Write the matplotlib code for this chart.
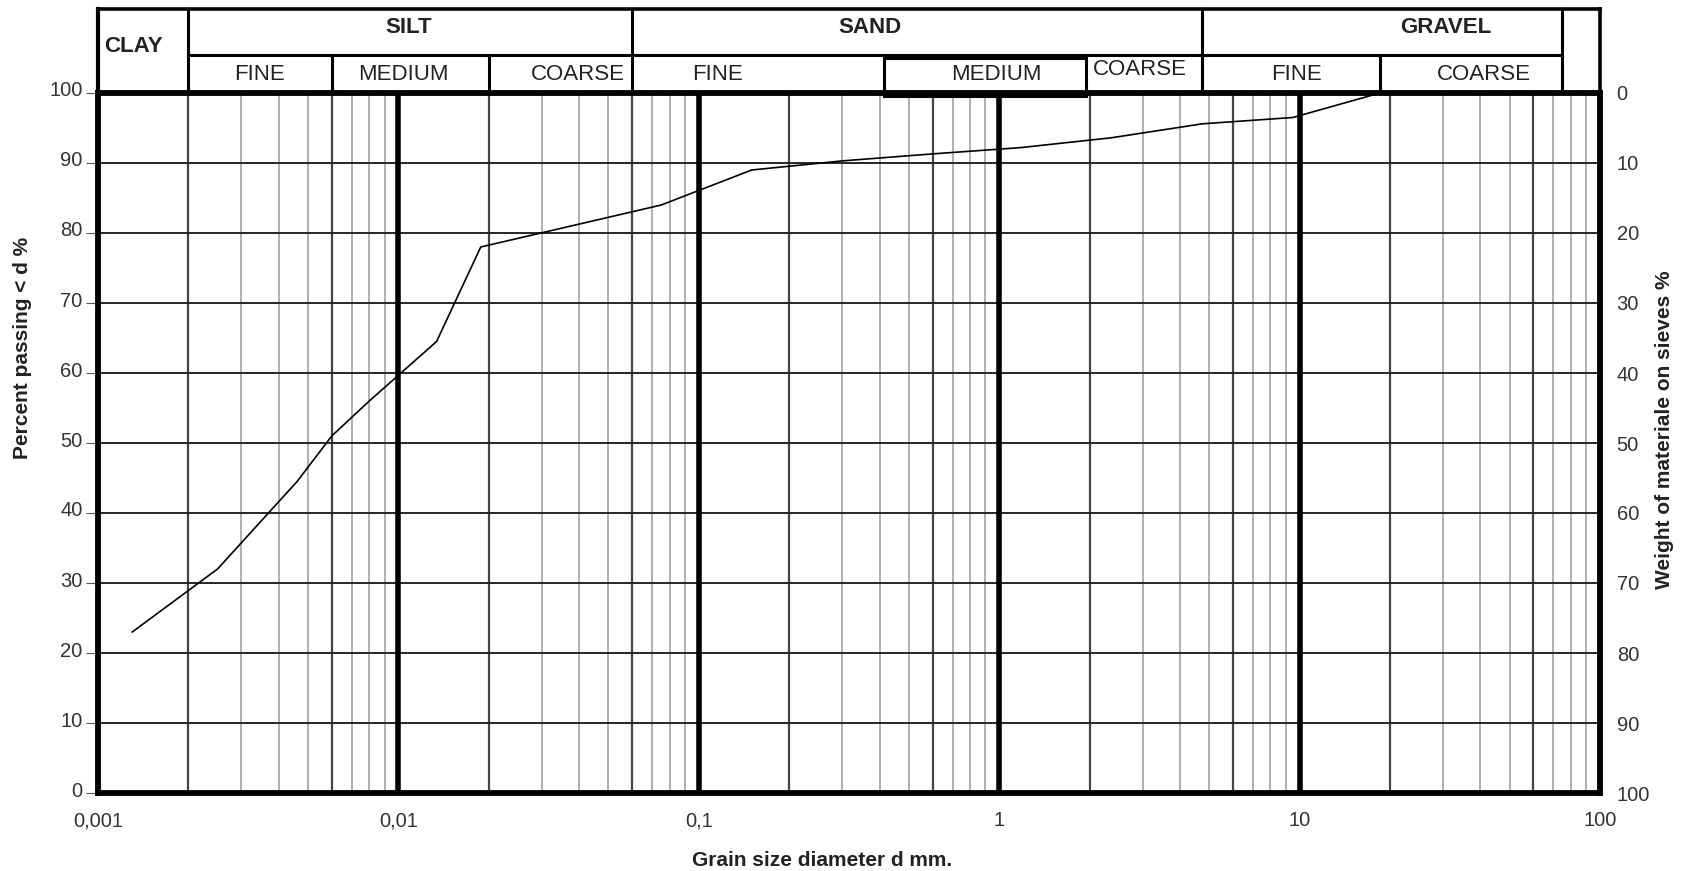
import matplotlib
matplotlib.use("Agg")
import matplotlib.pyplot as plt
from matplotlib.patches import Rectangle
from matplotlib.ticker import NullLocator
from matplotlib.transforms import blended_transform_factory, ScaledTranslation

plt.rcParams['font.family'] = ['Liberation Sans', 'DejaVu Sans']

# grain size distribution (hydrometer + sieve readings)
diam = [0.0013, 0.0025, 0.0046, 0.006, 0.008, 0.0134, 0.0188, 0.075,
        0.15, 0.3, 0.6, 1.18, 2.36, 4.75, 9.5, 18.5]
passing = [23, 32, 44.5, 51, 56, 64.5, 78, 84,
           89, 90.3, 91.3, 92.2, 93.6, 95.6, 96.5, 100]

xticks = [0.001, 0.01, 0.1, 1, 10, 100]
xticklabels = ['0,001', '0,01', '0,1', '1', '10', '100']
yticks = list(range(0, 101, 10))

# soil classes: (name, from mm, to mm)
main_classes = [('CLAY', 0.001, 0.002), ('SILT', 0.002, 0.06),
                ('SAND', 0.06, 4.75), ('GRAVEL', 4.75, 75), ('', 75, 100)]
sub_classes = [('FINE', 0.002, 0.006), ('MEDIUM', 0.006, 0.02), ('COARSE', 0.02, 0.06),
               ('FINE', 0.06, 0.415), ('MEDIUM', 0.415, 1.95), ('COARSE', 1.95, 4.75),
               ('FINE', 4.75, 18.5), ('COARSE', 18.5, 75)]

# where the header words sit (x in mm)
main_text_x = [0.00131, 0.0108, 0.37, 30.7, None]
sub_text_x = [0.00344, 0.01035, 0.0396, 0.115, 0.975, 2.94, 9.73, 41.1]

fig = plt.figure(figsize=(16.86, 8.71), dpi=100)
ax = fig.add_axes([98 / 1686, 78 / 871, 1502 / 1686, 700 / 871])
ax.set_xscale('log')
ax.set_xlim(0.001, 100)
ax.set_ylim(0, 100)

# vertical grid: decades bold, 2/6 boundaries darker, the rest light
for e in range(-3, 2):
    for k in range(1, 10):
        v = k * 10.0 ** e
        if v <= 0.001 or v >= 100:
            continue
        if k == 1:
            ax.axvline(v, color='black', lw=4.0, zorder=3)
        elif k in (2, 6):
            ax.axvline(v, color='#444444', lw=1.6, zorder=1)
        else:
            ax.axvline(v, color='#9a9a9a', lw=1.1, zorder=1)
for v in yticks[1:-1]:
    ax.axhline(v, color='#262626', lw=1.4, zorder=2)

ax.plot(diam, passing, color='black', lw=1.2, zorder=4)

for s in ax.spines.values():
    s.set_linewidth(4.2)
    s.set_color('black')
    s.set_zorder(5)

ax.set_xticks(xticks, labels=xticklabels)
ax.xaxis.set_minor_locator(NullLocator())
ax.tick_params(axis='x', length=0, pad=13, labelsize=14.5, labelcolor='#333333')
ax.set_yticks(yticks)
ax.tick_params(axis='y', length=8.5, width=0.8, color='#555555', pad=2.5,
               labelsize=14.5, labelcolor='#333333')
shift = ScaledTranslation(0, 0.04, fig.dpi_scale_trans)
for lbl in ax.get_yticklabels():
    lbl.set_transform(lbl.get_transform() + shift)

ax2 = ax.twinx()
ax2.set_ylim(100, 0)
ax2.set_yticks(yticks)
ax2.tick_params(axis='y', length=0, pad=12, labelsize=14.5, labelcolor='#333333')
for s in ax2.spines.values():
    s.set_visible(False)

# classification header above the plot
hdr = blended_transform_factory(ax.transData, ax.transAxes)
y_top, y_mid, y_bot = 1.1206, 1.0543, 1.0
hlw = 2.2


def hline(x0, x1, y, lw=hlw):
    ax.plot([x0, x1], [y, y], color='black', lw=lw, transform=hdr,
            clip_on=False, solid_capstyle='projecting', zorder=6)


def vline(x, y0, y1, lw=hlw):
    ax.plot([x, x], [y0, y1], color='black', lw=lw, transform=hdr,
            clip_on=False, solid_capstyle='projecting', zorder=6)


hline(0.001, 100, y_top, lw=2.6)
hline(0.002, 75, y_mid)
vline(0.001, y_bot, y_top, lw=3.0)
vline(100, y_bot, y_top, lw=2.6)
for name, a, b in main_classes[1:]:
    vline(a, y_bot, y_top)
for name, a, b in [sc for sc in sub_classes if sc[1] in (0.006, 0.02, 18.5)]:
    vline(a, y_bot, y_mid)

# medium sand box sits a little lower than the rest of the row
ax.add_patch(Rectangle((0.415, 0.996), 1.95 - 0.415, 1.0497 - 0.996, transform=hdr,
                       fill=False, lw=hlw, edgecolor='black', clip_on=False, zorder=6))

for (name, a, b), tx in zip(main_classes, main_text_x):
    if not name:
        continue
    ty = 1.067 if name == 'CLAY' else 1.094
    ax.text(tx, ty, name, transform=hdr, ha='center', va='center', fontsize=16,
            fontweight='bold', color='#222222', clip_on=False)
for (name, a, b), tx in zip(sub_classes, sub_text_x):
    ty = 1.033 if (name == 'COARSE' and a == 1.95) else 1.026
    ax.text(tx, ty, name, transform=hdr, ha='center', va='center', fontsize=16,
            color='#222222', clip_on=False)

fig.text(23 / 1686, 0.6005, 'Percent passing < d %', rotation=90, ha='center',
         va='center', fontsize=15, fontweight='bold', color='#222222')
fig.text(1665 / 1686, 0.5063, 'Weight of materiale on sieves %', rotation=90,
         ha='center', va='center', fontsize=15, fontweight='bold', color='#222222')
fig.text(822 / 1686, 11 / 871, 'Grain size diameter d mm.', ha='center', va='center',
         fontsize=15, fontweight='bold', color='#222222')

fig.savefig('out.png', dpi=100)
